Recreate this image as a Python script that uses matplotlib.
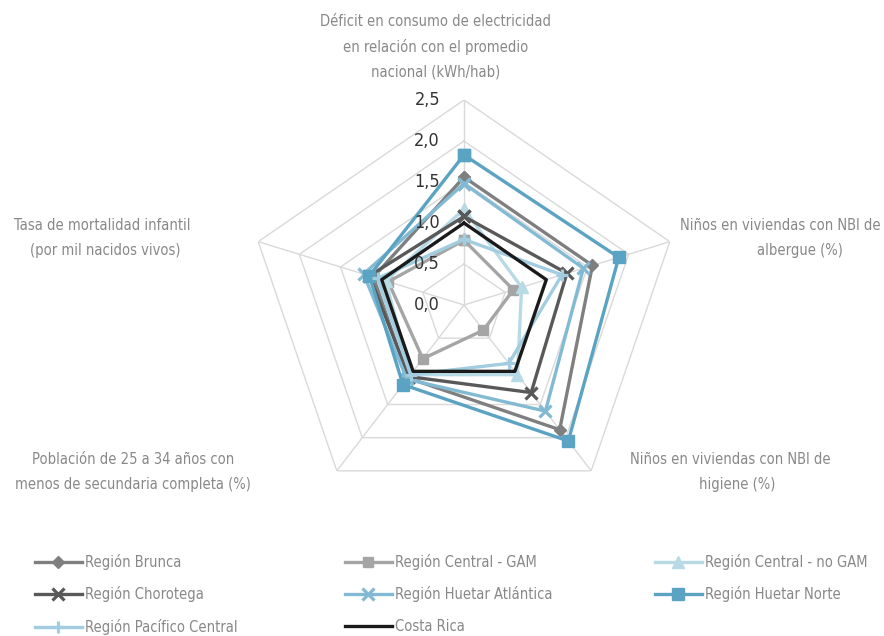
import numpy as np
import matplotlib.pyplot as plt

plt.rcParams['font.family'] = ['DejaVu Sans']
plt.rcParams['font.stretch'] = 'condensed'

# ejes del radar (sentido horario desde arriba)
ejes = ['Déficit electricidad', 'NBI albergue', 'NBI higiene', 'Población 25-34', 'Mortalidad infantil']
ticks = [0.0, 0.5, 1.0, 1.5, 2.0, 2.5]
tick_labels = ['0,0', '0,5', '1,0', '1,5', '2,0', '2,5']

nombres = ['Región Brunca', 'Región Central - GAM', 'Región Central - no GAM',
           'Región Chorotega', 'Región Huetar Atlántica', 'Región Huetar Norte',
           'Región Pacífico Central', 'Costa Rica']

brunca = [1.56, 1.56, 1.88, 1.10, 1.10]
central_gam = [0.79, 0.60, 0.38, 0.81, 0.92]
central_no_gam = [1.17, 0.70, 1.05, 1.05, 0.95]
chorotega = [1.08, 1.25, 1.32, 1.08, 1.15]
huetar_atl = [1.48, 1.45, 1.60, 1.12, 1.22]
huetar_norte = [1.83, 1.88, 2.05, 1.20, 1.15]
pacifico = [0.80, 1.19, 0.88, 1.05, 1.05]
costa_rica = [1.0, 1.0, 1.0, 1.0, 1.0]

valores = [brunca, central_gam, central_no_gam, chorotega, huetar_atl,
           huetar_norte, pacifico, costa_rica]

colores = ['#7f7f7f', '#a5a5a5', '#b7dae5', '#595959', '#82bad3', '#5ba3c2', '#a2cce0', '#1a1a1a']
marcadores = ['D', 's', '^', 'x', 'x', 's', '+', None]
tam = [6, 7, 8, 8, 8, 8, 9, 0]

W, H = 884, 636
fig = plt.figure(figsize=(W / 100, H / 100), dpi=100)
cx, cy = 464, 305
rx, ry = 216.4, 205
ax = fig.add_axes([(cx - rx) / W, (H - cy - ry) / H, 2 * rx / W, 2 * ry / H], projection='polar')
ax.set_aspect('auto')
ax.set_theta_offset(np.pi / 2)
ax.set_theta_direction(-1)
ax.set_ylim(0, 2.5)
ax.set_xticks([])
ax.set_yticks([])
ax.grid(False)
ax.spines['polar'].set_visible(False)
ax.patch.set_visible(False)

theta = np.linspace(0, 2 * np.pi, len(ejes), endpoint=False)
theta_c = np.append(theta, theta[0])

# rejilla pentagonal
for r in ticks[1:]:
    ax.plot(theta_c, [r] * len(theta_c), color='#d9d9d9', lw=1, zorder=1)
for t in theta:
    ax.plot([t, t], [0, 2.5], color='#d9d9d9', lw=1, zorder=1)

for r, s in zip(ticks, tick_labels):
    ax.annotate(s, xy=(0, r), xytext=(-24, 0), textcoords='offset pixels',
                ha='right', va='center', fontsize=13, color='#333333', zorder=5)

lineas = []
for nom, v, c, m, ms in zip(nombres, valores, colores, marcadores, tam):
    vv = v + v[:1]
    mew = 2.3 if m in ('x', '+') else 1
    ln, = ax.plot(theta_c, vv, color=c, lw=2.4, marker=m, ms=ms, mew=mew,
                  mfc=c, mec=c, label=nom, zorder=3, clip_on=False)
    lineas.append(ln)

# etiquetas de categorías
cat_color = '#888888'
fs = 10.5
cat_lineas = [
    ('Déficit en consumo de electricidad', 436, 22, 'center'),
    ('en relación con el promedio', 436, 47, 'center'),
    ('nacional (kWh/hab)', 436, 72, 'center'),
    ('Niños en viviendas con NBI de', 680, 225, 'left'),
    ('albergue (%)', 757, 250, 'left'),
    ('Niños en viviendas con NBI de', 730, 460, 'center'),
    ('higiene (%)', 737, 484, 'center'),
    ('Población de 25 a 34 años con', 133, 460, 'center'),
    ('menos de secundaria completa (%)', 133, 484, 'center'),
    ('Tasa de mortalidad infantil', 102, 225, 'center'),
    ('(por mil nacidos vivos)', 105, 250, 'center'),
]
for txt, x, y, ha in cat_lineas:
    fig.text(x / W, 1 - y / H, txt, ha=ha, va='center', fontsize=fs, color=cat_color)

# leyenda en tres columnas (orden por filas)
cols = [[0, 3, 6], [1, 4, 7], [2, 5]]
xs = [35, 345, 655]
for idx, x in zip(cols, xs):
    fig.legend([lineas[i] for i in idx], [nombres[i] for i in idx],
               loc='upper left', bbox_to_anchor=(x / W, 1 - 554 / H),
               frameon=False, fontsize=fs, labelcolor=cat_color,
               handlelength=3.2, handletextpad=0.2, labelspacing=1.12,
               borderpad=0, borderaxespad=0, numpoints=1)

fig.savefig('out.png', dpi=100)
